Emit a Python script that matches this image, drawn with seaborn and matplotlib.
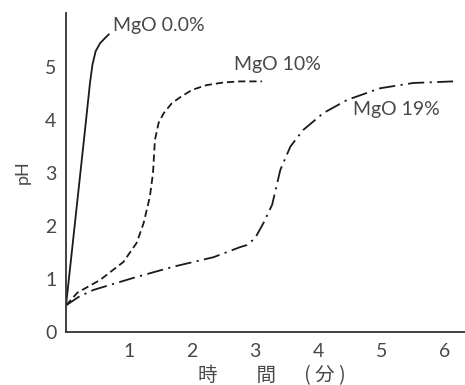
import matplotlib
matplotlib.use("Agg")
import matplotlib.pyplot as plt
import seaborn as sns
import pandas as pd

# Time (min) vs pH for three MgO contents
t_mgo0 = [0.0, 0.1, 0.2, 0.3, 0.38, 0.42, 0.47, 0.54, 0.62, 0.68]
ph_mgo0 = [0.5, 1.6, 2.7, 3.8, 4.7, 5.05, 5.3, 5.45, 5.55, 5.62]

t_mgo10 = [0.0, 0.18, 0.54, 0.91, 1.12, 1.23, 1.33, 1.38, 1.41, 1.47, 1.55, 1.68, 1.81, 2.0, 2.23, 2.5, 2.76, 3.11]
ph_mgo10 = [0.5, 0.74, 0.98, 1.32, 1.68, 2.05, 2.55, 3.0, 3.62, 3.95, 4.13, 4.32, 4.43, 4.57, 4.66, 4.71, 4.73, 4.73]

t_mgo19 = [0.0, 0.2, 0.43, 1.07, 1.7, 2.34, 2.76, 2.87, 3.0, 3.13, 3.27, 3.4, 3.56, 3.76, 4.08, 4.46, 4.98, 5.51, 6.14]
ph_mgo19 = [0.5, 0.66, 0.79, 1.02, 1.23, 1.41, 1.6, 1.64, 1.77, 2.05, 2.4, 3.06, 3.5, 3.81, 4.13, 4.38, 4.6, 4.7, 4.73]

labels = ["MgO 0.0%", "MgO 10%", "MgO 19%"]
x_ticks = [1, 2, 3, 4, 5, 6]
y_ticks = [0, 1, 2, 3, 4, 5]

sns.set_theme(style="white")
plt.rcParams["font.family"] = ["Lato", "DejaVu Sans", "Noto Sans CJK JP"]

fig = plt.figure(figsize=(4.65, 3.85), dpi=100)
ax = fig.add_axes([0.142, 0.138, 0.858, 0.828])

ink = "#1a1a1a"
series = [
    (t_mgo0, ph_mgo0, "-"),
    (t_mgo10, ph_mgo10, (0, (4, 2.2))),
    (t_mgo19, ph_mgo19, (0, (9, 3, 1.2, 3))),
]
for t, ph, ls in series:
    df = pd.DataFrame({"t": t, "pH": ph})
    sns.lineplot(data=df, x="t", y="pH", ax=ax, color=ink, linewidth=1.3,
                 linestyle=ls, sort=False, estimator=None)

ax.set_xlim(0, 6.33)
ax.set_ylim(0, 6.02)
ax.set_xticks(x_ticks)
ax.set_yticks(y_ticks)
ax.set_xticklabels([str(v) for v in x_ticks])
ax.set_yticklabels([str(v) for v in y_ticks])
ax.tick_params(axis="both", direction="in", length=6, width=1.0, colors="#333333",
               labelsize=14, labelcolor="#484848", pad=7)
ax.tick_params(axis="x", length=5, pad=8)

for side in ["top", "right"]:
    ax.spines[side].set_visible(False)
for side in ["left", "bottom"]:
    ax.spines[side].set_color("#333333")
    ax.spines[side].set_linewidth(1.3)

txt = "#484848"
kw = dict(fontsize=14, color=txt, va="center", ha="left")
ax.text(0.75, 5.78, labels[0], **kw)
ax.text(2.66, 5.05, labels[1], **kw)
ax.text(4.56, 4.2, labels[2], **kw)

ax.set_ylabel("pH", fontsize=13, color=txt, labelpad=10)
ax.set_xlabel("時　　間　  ( 分 )", fontsize=14, color=txt,
              family=["Noto Sans CJK JP", "DejaVu Sans"])
ax.xaxis.set_label_coords(0.515, -0.103)
ax.set_facecolor("white")
fig.patch.set_facecolor("white")

fig.savefig("out.png", dpi=100)
